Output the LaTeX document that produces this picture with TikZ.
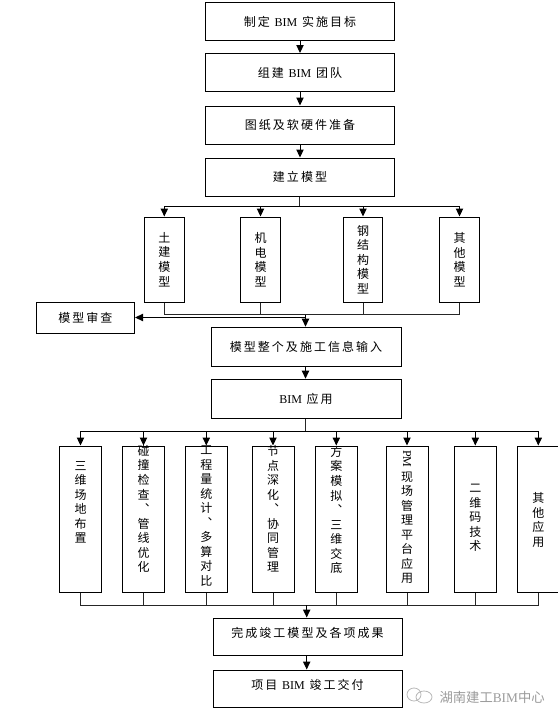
\documentclass[tikz,border=0pt]{standalone}
\usepackage{fontspec}
\usepackage{graphicx}
\usetikzlibrary{arrows.meta, shapes.geometric}
\newfontfamily\cjk{Noto Sans CJK SC}[LetterSpace=17]
\newfontfamily\cjkplain{Noto Sans CJK SC}
\newfontfamily\latn{Liberation Serif}
\newcommand{\bim}{{\latn BIM}}
\definecolor{cmark}{HTML}{9A9A9A}
\tikzset{
  every picture/.style={line width=0.75pt},
  box/.style={draw=black, fill=white, align=center, inner sep=0pt, font=\cjk\fontsize{9}{10.9}\selectfont},
  wide/.style={box, minimum width=141.75pt, minimum height=28.5pt},
  model/.style={box, minimum width=29.6pt, minimum height=63.75pt},
  app/.style={box, minimum width=31.5pt, minimum height=109.5pt},
  vtext/.style={align=center, inner sep=0pt, font=\cjk\fontsize{9}{10.9}\selectfont},
  raised/.style={text depth=6pt},
  arrow/.style={-{Triangle[length=6pt, width=5.5pt]}, draw=black},
  link/.style={draw=black!85},
  wmark/.style={font=\cjkplain\fontsize{10}{12}\selectfont, text=cmark, inner sep=0pt},
}
\begin{document}
\begin{tikzpicture}[x=0.75pt, y=-0.75pt]
  \useasboundingbox (0,0) rectangle (557,721);
  % the steps at the top
  \node[wide] (goal) at (300,21.5) {制定 \bim{} 实施目标};
  \node[wide] (team) at (300,72.5) {组建 \bim{} 团队};
  \node[wide] (soft) at (300,125) {图纸及软硬件准备};
  \node[wide] (build) at (300,177) {建立模型};
  \draw[arrow] (goal) -- (team);
  \draw[arrow] (team) -- (soft);
  \draw[arrow] (soft) -- (build);
  % the four models
  \coordinate (jtop) at (299,206.5);
  \coordinate (jbot) at (305.5,314.5);
  \draw[link] (build.south -| jtop) -- (jtop);
  \foreach \n/\x/\t in {1/164.3/土\\建\\模\\型, 2/260.5/机\\电\\模\\型, 3/363/钢\\结\\构\\模\\型, 4/459.5/其\\他\\模\\型} {
    \node[model] (m\n) at (\x,259.5) {\t};
    \draw[arrow] (jtop) -| (m\n.north);
    \draw[link] (m\n.south) |- (jbot);
  }
  \node[box, minimum width=73.7pt, minimum height=23.25pt] (review) at (85.4,317.5) {模型审查};
  \node[box, minimum width=142.5pt, minimum height=29.25pt] (input) at (306,346.7) {模型整个及施工信息输入};
  \node[box, minimum width=142.5pt, minimum height=29.25pt] (use) at (306,398.7) {\bim{} 应用};
  \draw[arrow] (jbot) -- (jbot |- input.north);
  \draw[arrow] (jbot |- review.east) -- (review.east);
  \draw[arrow] (jbot |- input.south) -- (jbot |- use.north);
  % the applications
  \coordinate (jup) at (305,431.3);
  \coordinate (jdown) at (306.7,605);
  \draw[link] (use.south -| jup) -- (jup);
  \foreach \n/\x/\y/\t in {1/80.5/502.5/三\\维\\场\\地\\布\\置,
      2/143.5/509/碰\\撞\\检\\查\\︑\\管\\线\\优\\化,
      3/206.3/516/工\\程\\量\\统\\计\\︑\\多\\算\\对\\比,
      4/273/509/节\\点\\深\\化\\︑\\协\\同\\管\\理,
      5/336.3/510/方\\案\\模\\拟\\︑\\三\\维\\交\\底,
      6/407/517/\rotatebox{-90}{\latn PM}\\[2pt]现\\场\\管\\理\\平\\台\\应\\用,
      7/475.3/518/二\\维\\码\\技\\术,
      8/538.3/520/其\\他\\应\\用} {
    \node[app] (a\n) at (\x,519) {};
    \node[vtext] (t\n) at (\x,\y) {\t};
    \draw[arrow] (jup) -| (a\n.north);
    \draw[link] (a\n.south) |- (jdown);
  }
  % the end of the chain
  \node[box, raised, minimum width=141.75pt, minimum height=27.75pt] (done) at (307.5,636.5) {完成竣工模型及各项成果};
  \node[box, raised, minimum width=141.75pt, minimum height=27.75pt] (hand) at (307.5,688.5) {项目 \bim{} 竣工交付};
  \draw[arrow] (jdown) -- (jdown |- done.north);
  \draw[arrow] (jdown |- done.south) -- (jdown |- hand.north);
  % the mark in the corner
  \draw[cmark!70, line width=0.6pt] (414,694.5) ellipse (7 and 6.5);
  \draw[cmark!70, line width=0.6pt] (424,697) ellipse (8 and 6);
  \node[wmark, anchor=west] (wm) at (439,697.7) {湖南建工{\latn BIM}中心};
\end{tikzpicture}
\end{document}
